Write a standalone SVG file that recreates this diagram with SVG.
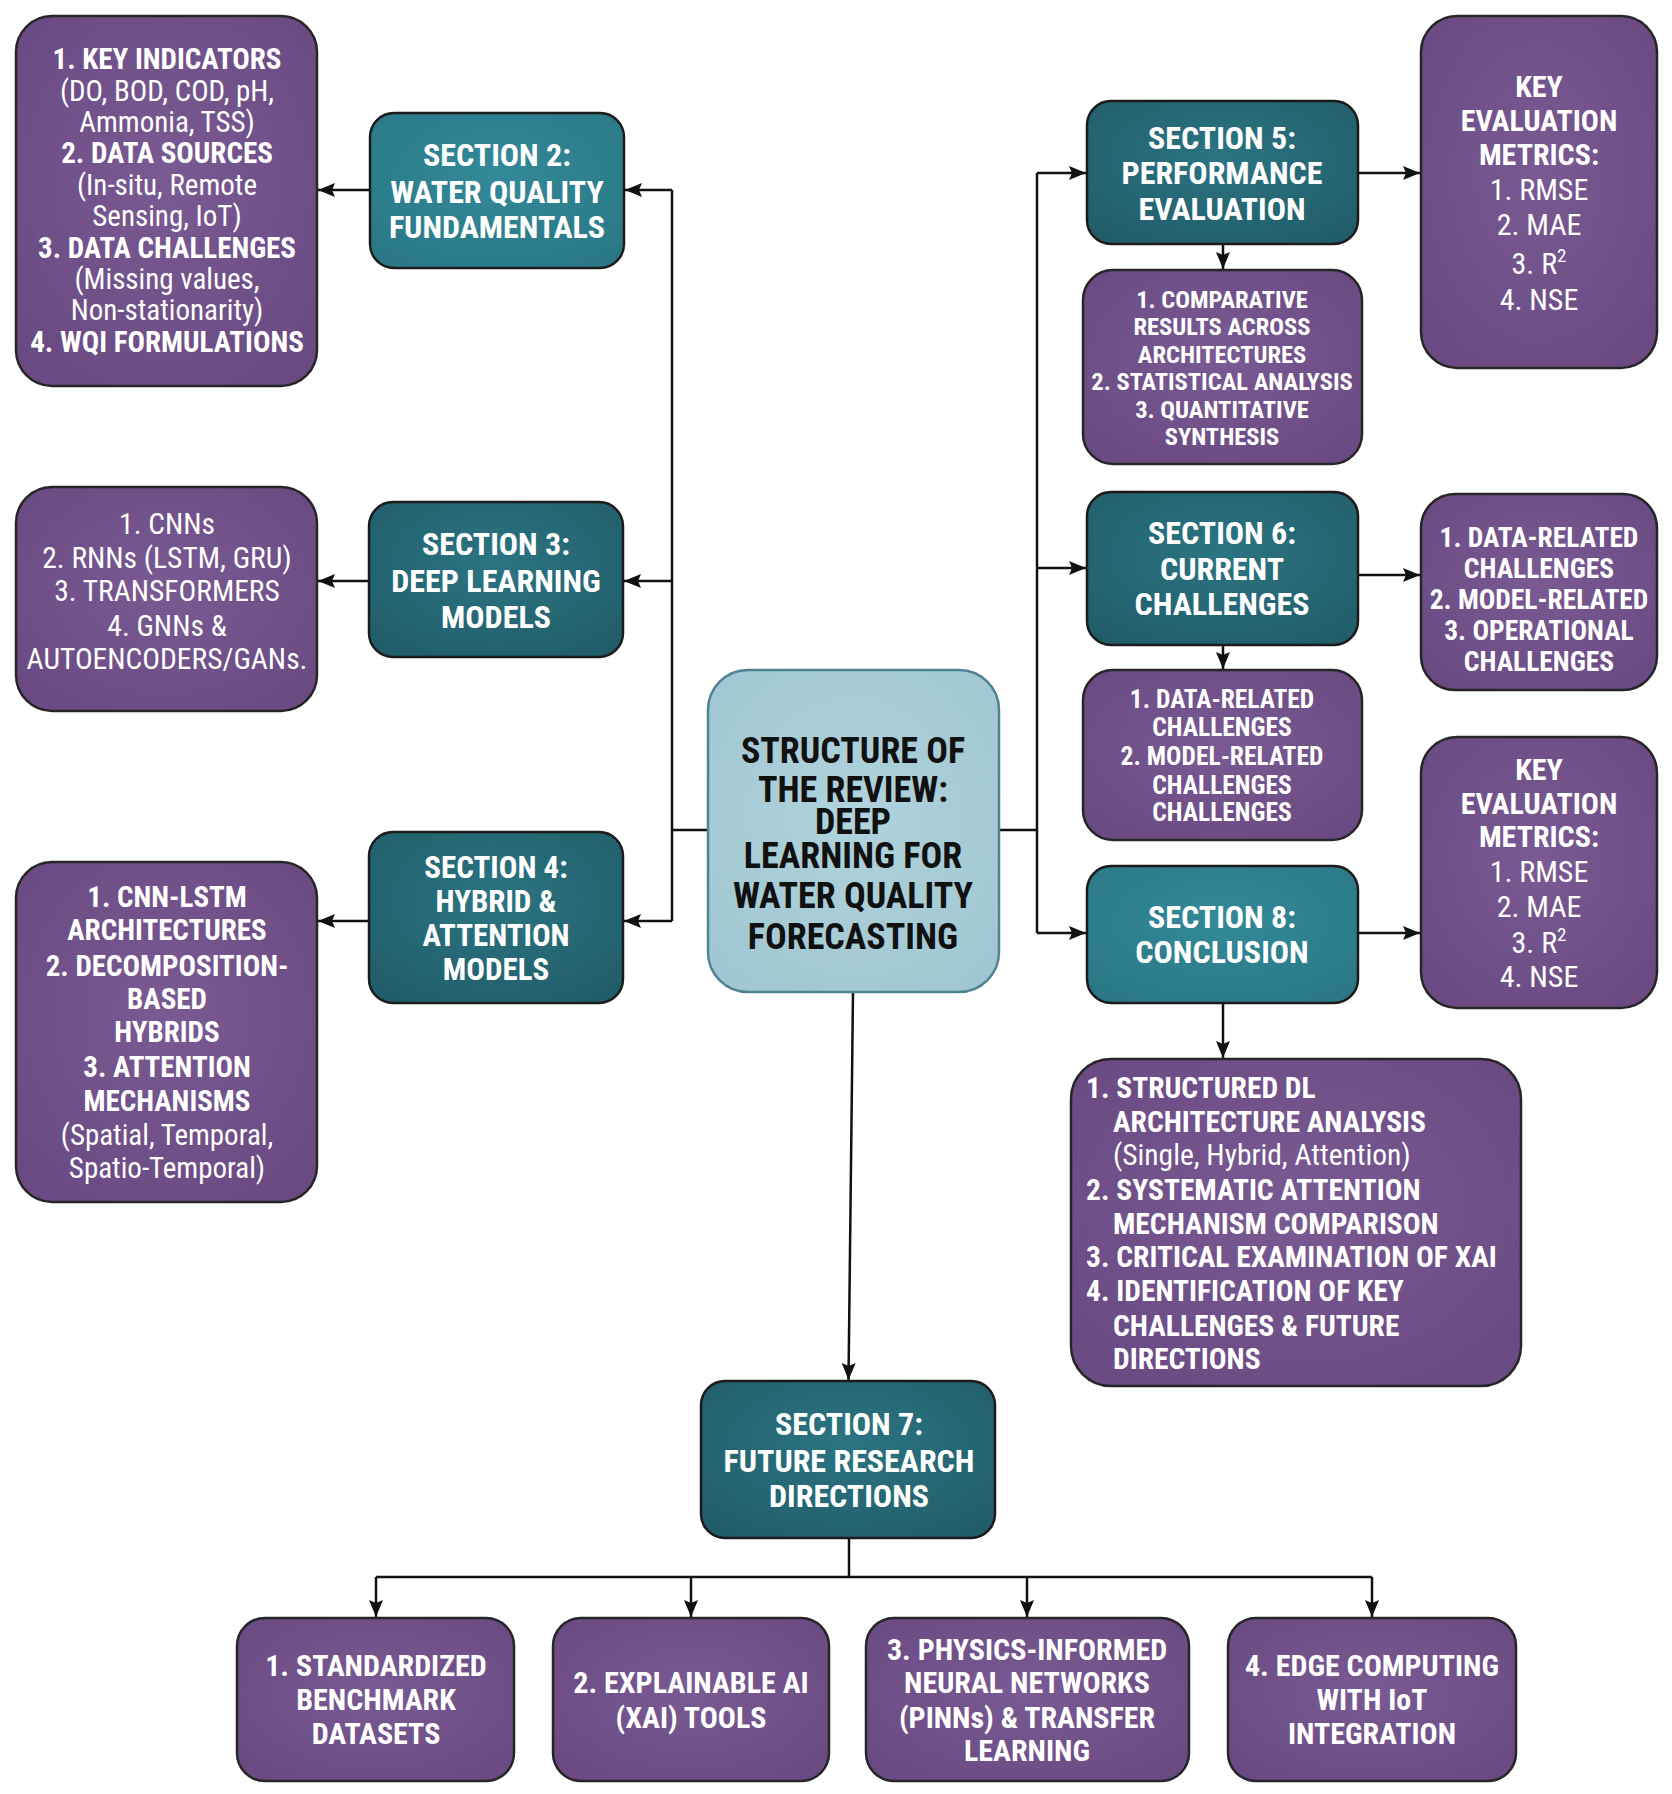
<svg xmlns="http://www.w3.org/2000/svg" width="1672" height="1794" viewBox="0 0 1672 1794">
<defs>
<radialGradient id="gp" cx="50%" cy="45%" r="65%">
<stop offset="0" stop-color="#7a5a93"/>
<stop offset="1" stop-color="#6a4a83"/>
</radialGradient>
<radialGradient id="gt" cx="50%" cy="40%" r="70%">
<stop offset="0" stop-color="#2c7482"/>
<stop offset="1" stop-color="#215d69"/>
</radialGradient>
<radialGradient id="gt2" cx="50%" cy="40%" r="70%">
<stop offset="0" stop-color="#338998"/>
<stop offset="1" stop-color="#2a7886"/>
</radialGradient>
<radialGradient id="gc" cx="50%" cy="45%" r="70%">
<stop offset="0" stop-color="#b0d3dc"/>
<stop offset="1" stop-color="#9fc6d1"/>
</radialGradient>
<marker id="ah" markerUnits="userSpaceOnUse" markerWidth="18" markerHeight="16" refX="17" refY="8" orient="auto">
<path d="M0,1 L17,8 L0,15 L3,8 z" fill="#111"/>
</marker>
</defs>
<style>
.p{fill:url(#gp);stroke:#262626;stroke-width:2.5}
.t{fill:url(#gt);stroke:#1b1b1b;stroke-width:2.5}
.t2{fill:url(#gt2);stroke:#1b1b1b;stroke-width:2.5}
.c{fill:url(#gc);stroke:#4f8393;stroke-width:2.5}
text{font-family:'Liberation Sans Narrow','Roboto Condensed','DejaVu Sans Condensed','Liberation Sans',sans-serif;fill:#ffffff;text-anchor:middle}
.b{font-weight:bold}
.r{font-weight:normal}
.s{font-size:32px;font-weight:bold}
.ctr{font-size:36px;font-weight:bold;fill:#111111}
.l{text-anchor:start}
.w line,.w path{stroke:#111;stroke-width:2.5;fill:none}
</style>
<rect width="1672" height="1794" fill="#ffffff"/>

<g id="connectors" class="w">
<line x1="672" y1="190" x2="672" y2="921"/>
<line x1="708" y1="830" x2="672" y2="830"/>
<line x1="672" y1="190" x2="625" y2="190" marker-end="url(#ah)"/>
<line x1="672" y1="581" x2="624" y2="581" marker-end="url(#ah)"/>
<line x1="672" y1="921" x2="624" y2="921" marker-end="url(#ah)"/>
<line x1="370" y1="190" x2="318" y2="190" marker-end="url(#ah)"/>
<line x1="369" y1="581" x2="318" y2="581" marker-end="url(#ah)"/>
<line x1="369" y1="921" x2="318" y2="921" marker-end="url(#ah)"/>
<line x1="1037" y1="173" x2="1037" y2="933"/>
<line x1="999" y1="830" x2="1037" y2="830"/>
<line x1="1037" y1="173" x2="1086" y2="173" marker-end="url(#ah)"/>
<line x1="1037" y1="568" x2="1086" y2="568" marker-end="url(#ah)"/>
<line x1="1037" y1="933" x2="1086" y2="933" marker-end="url(#ah)"/>
<line x1="1358" y1="173" x2="1420" y2="173" marker-end="url(#ah)"/>
<line x1="1358" y1="575" x2="1420" y2="575" marker-end="url(#ah)"/>
<line x1="1358" y1="933" x2="1420" y2="933" marker-end="url(#ah)"/>
<line x1="1223" y1="244" x2="1223" y2="269" marker-end="url(#ah)"/>
<line x1="1223" y1="645" x2="1223" y2="669" marker-end="url(#ah)"/>
<line x1="1223" y1="1003" x2="1223" y2="1058" marker-end="url(#ah)"/>
<line x1="853" y1="992" x2="848.5" y2="1380" marker-end="url(#ah)"/>
<line x1="849" y1="1538" x2="849" y2="1577"/>
<line x1="376" y1="1577" x2="1372" y2="1577"/>
<line x1="376" y1="1577" x2="376" y2="1617" marker-end="url(#ah)"/>
<line x1="691" y1="1577" x2="691" y2="1617" marker-end="url(#ah)"/>
<line x1="1027" y1="1577" x2="1027" y2="1617" marker-end="url(#ah)"/>
<line x1="1372" y1="1577" x2="1372" y2="1617" marker-end="url(#ah)"/>
</g>

<g id="box-s2-details">
<rect class="p" x="16" y="16" width="301" height="370" rx="36"/>
<g font-size="29">
<text class="b" x="167" y="69">1. KEY INDICATORS</text>
<text class="r" x="167" y="101">(DO, BOD, COD, pH,</text>
<text class="r" x="167" y="132">Ammonia, TSS)</text>
<text class="b" x="167" y="163">2. DATA SOURCES</text>
<text class="r" x="167" y="195">(In-situ, Remote</text>
<text class="r" x="167" y="226">Sensing, IoT)</text>
<text class="b" x="167" y="258">3. DATA CHALLENGES</text>
<text class="r" x="167" y="289">(Missing values,</text>
<text class="r" x="167" y="320">Non-stationarity)</text>
<text class="b" x="167" y="352">4. WQI FORMULATIONS</text>
</g>
</g>

<g id="section2">
<rect class="t2" x="370" y="113" width="254" height="155" rx="24"/>
<text class="s" x="497" y="166">SECTION 2:</text>
<text class="s" x="497" y="203">WATER QUALITY</text>
<text class="s" x="497" y="238">FUNDAMENTALS</text>
</g>

<g id="box-s3-details">
<rect class="p" x="16" y="487" width="301" height="224" rx="36"/>
<g font-size="29.5" class="r">
<text x="167" y="534">1. CNNs</text>
<text x="167" y="568">2. RNNs (LSTM, GRU)</text>
<text x="167" y="601">3. TRANSFORMERS</text>
<text x="167" y="636">4. GNNs &amp;</text>
<text x="167" y="669">AUTOENCODERS/GANs.</text>
</g>
</g>

<g id="section3">
<rect class="t" x="369" y="502" width="254" height="155" rx="24"/>
<text class="s" x="496" y="555">SECTION 3:</text>
<text class="s" x="496" y="592">DEEP LEARNING</text>
<text class="s" x="496" y="628">MODELS</text>
</g>

<g id="box-s4-details">
<rect class="p" x="16" y="862" width="301" height="340" rx="36"/>
<g font-size="29">
<text class="b" x="167" y="907">1. CNN-LSTM</text>
<text class="b" x="167" y="940">ARCHITECTURES</text>
<text class="b" x="167" y="976">2. DECOMPOSITION-</text>
<text class="b" x="167" y="1009">BASED</text>
<text class="b" x="167" y="1042">HYBRIDS</text>
<text class="b" x="167" y="1077">3. ATTENTION</text>
<text class="b" x="167" y="1111">MECHANISMS</text>
<text class="r" x="167" y="1145">(Spatial, Temporal,</text>
<text class="r" x="167" y="1178">Spatio-Temporal)</text>
</g>
</g>

<g id="section4">
<rect class="t" x="369" y="832" width="254" height="171" rx="24"/>
<g font-size="31" font-weight="bold">
<text x="496" y="878">SECTION 4:</text>
<text x="496" y="912">HYBRID &amp;</text>
<text x="496" y="946">ATTENTION</text>
<text x="496" y="980">MODELS</text>
</g>
</g>

<g id="center">
<rect class="c" x="708" y="670" width="291" height="322" rx="40"/>
<text class="ctr" x="853" y="763">STRUCTURE OF</text>
<text class="ctr" x="853" y="802">THE REVIEW:</text>
<text class="ctr" x="853" y="834">DEEP</text>
<text class="ctr" x="853" y="868">LEARNING FOR</text>
<text class="ctr" x="853" y="908">WATER QUALITY</text>
<text class="ctr" x="853" y="949">FORECASTING</text>
</g>

<g id="section5">
<rect class="t" x="1087" y="101" width="271" height="143" rx="24"/>
<text class="s" x="1222" y="149">SECTION 5:</text>
<text class="s" x="1222" y="184">PERFORMANCE</text>
<text class="s" x="1222" y="220">EVALUATION</text>
</g>

<g id="box-s5-metrics">
<rect class="p" x="1421" y="16" width="236" height="352" rx="36"/>
<g font-size="30">
<text class="b" x="1539" y="97">KEY</text>
<text class="b" x="1539" y="131">EVALUATION</text>
<text class="b" x="1539" y="165">METRICS:</text>
<text class="r" x="1539" y="200">1. RMSE</text>
<text class="r" x="1539" y="235">2. MAE</text>
<text class="r" x="1539" y="274">3. R<tspan font-size="19" dy="-12">2</tspan></text>
<text class="r" x="1539" y="310">4. NSE</text>
</g>
</g>

<g id="box-s5-details">
<rect class="p" x="1083" y="270" width="279" height="194" rx="30"/>
<g font-size="24.5" class="b">
<text x="1222" y="308">1. COMPARATIVE</text>
<text x="1222" y="335">RESULTS ACROSS</text>
<text x="1222" y="363">ARCHITECTURES</text>
<text x="1222" y="390">2. STATISTICAL ANALYSIS</text>
<text x="1222" y="418">3. QUANTITATIVE</text>
<text x="1222" y="445">SYNTHESIS</text>
</g>
</g>

<g id="section6">
<rect class="t" x="1087" y="492" width="271" height="153" rx="24"/>
<text class="s" x="1222" y="544">SECTION 6:</text>
<text class="s" x="1222" y="580">CURRENT</text>
<text class="s" x="1222" y="615">CHALLENGES</text>
</g>

<g id="box-s6-right">
<rect class="p" x="1421" y="494" width="236" height="196" rx="34"/>
<g font-size="27.5" class="b">
<text x="1539" y="547">1. DATA-RELATED</text>
<text x="1539" y="578">CHALLENGES</text>
<text x="1539" y="609">2. MODEL-RELATED</text>
<text x="1539" y="640">3. OPERATIONAL</text>
<text x="1539" y="671">CHALLENGES</text>
</g>
</g>

<g id="box-s6-details">
<rect class="p" x="1083" y="670" width="279" height="170" rx="30"/>
<g font-size="25.5" class="b">
<text x="1222" y="708">1. DATA-RELATED</text>
<text x="1222" y="736">CHALLENGES</text>
<text x="1222" y="765">2. MODEL-RELATED</text>
<text x="1222" y="794">CHALLENGES</text>
<text x="1222" y="821">CHALLENGES</text>
</g>
</g>

<g id="section8">
<rect class="t2" x="1087" y="866" width="271" height="137" rx="24"/>
<text class="s" x="1222" y="928">SECTION 8:</text>
<text class="s" x="1222" y="963">CONCLUSION</text>
</g>

<g id="box-s8-metrics">
<rect class="p" x="1421" y="737" width="236" height="271" rx="36"/>
<g font-size="30">
<text class="b" x="1539" y="780">KEY</text>
<text class="b" x="1539" y="814">EVALUATION</text>
<text class="b" x="1539" y="847">METRICS:</text>
<text class="r" x="1539" y="882">1. RMSE</text>
<text class="r" x="1539" y="917">2. MAE</text>
<text class="r" x="1539" y="953">3. R<tspan font-size="19" dy="-12">2</tspan></text>
<text class="r" x="1539" y="987">4. NSE</text>
</g>
</g>

<g id="box-s8-details">
<rect class="p" x="1071" y="1059" width="450" height="327" rx="40"/>
<g font-size="29.5" class="b">
<text class="l" x="1086" y="1098">1. STRUCTURED DL</text>
<text class="l" x="1113" y="1132">ARCHITECTURE ANALYSIS</text>
<text class="l r" x="1113" y="1165">(Single, Hybrid, Attention)</text>
<text class="l" x="1086" y="1200">2. SYSTEMATIC ATTENTION</text>
<text class="l" x="1113" y="1234">MECHANISM COMPARISON</text>
<text class="l" x="1086" y="1267">3. CRITICAL EXAMINATION OF XAI</text>
<text class="l" x="1086" y="1301">4. IDENTIFICATION OF KEY</text>
<text class="l" x="1113" y="1336">CHALLENGES &amp; FUTURE</text>
<text class="l" x="1113" y="1369">DIRECTIONS</text>
</g>
</g>

<g id="section7">
<rect class="t" x="701" y="1381" width="294" height="157" rx="24"/>
<text class="s" x="849" y="1435">SECTION 7:</text>
<text class="s" x="849" y="1472">FUTURE RESEARCH</text>
<text class="s" x="849" y="1507">DIRECTIONS</text>
</g>

<g id="future1">
<rect class="p" x="237" y="1618" width="277" height="163" rx="28"/>
<g font-size="30" class="b">
<text x="376" y="1676">1. STANDARDIZED</text>
<text x="376" y="1710">BENCHMARK</text>
<text x="376" y="1744">DATASETS</text>
</g>
</g>

<g id="future2">
<rect class="p" x="553" y="1618" width="276" height="163" rx="28"/>
<g font-size="30" class="b">
<text x="691" y="1693">2. EXPLAINABLE AI</text>
<text x="691" y="1728">(XAI) TOOLS</text>
</g>
</g>

<g id="future3">
<rect class="p" x="866" y="1618" width="323" height="163" rx="28"/>
<g font-size="30" class="b">
<text x="1027" y="1660">3. PHYSICS-INFORMED</text>
<text x="1027" y="1693">NEURAL NETWORKS</text>
<text x="1027" y="1728">(PINNs) &amp; TRANSFER</text>
<text x="1027" y="1761">LEARNING</text>
</g>
</g>

<g id="future4">
<rect class="p" x="1228" y="1618" width="288" height="163" rx="28"/>
<g font-size="30" class="b">
<text x="1372" y="1676">4. EDGE COMPUTING</text>
<text x="1372" y="1710">WITH IoT</text>
<text x="1372" y="1744">INTEGRATION</text>
</g>
</g>
</svg>
